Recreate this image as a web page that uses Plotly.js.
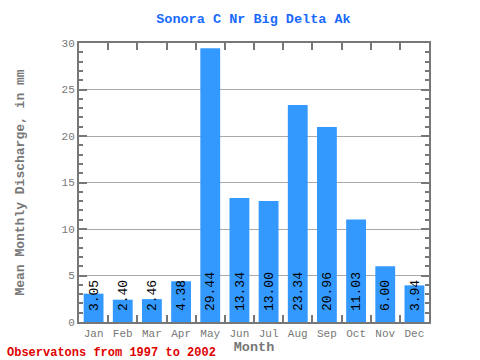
<!DOCTYPE html>
<html><head><meta charset="utf-8">
<script src="https://cdn.plot.ly/plotly-3.0.1.min.js"></script>
<style>body{margin:0}#c{width:480px;height:360px}</style>
</head><body><div id="c"></div>
<script>
const months = ["Jan","Feb","Mar","Apr","May","Jun","Jul","Aug","Sep","Oct","Nov","Dec"];
const discharge = [3.05, 2.40, 2.46, 4.38, 29.44, 13.34, 13.00, 23.34, 20.96, 11.03, 6.00, 3.94];
const yTicks = [0, 5, 10, 15, 20, 25, 30];
const FONT = "Liberation Mono, DejaVu Sans Mono, monospace";
const trace = {
  type: "bar", x: months, y: discharge,
  marker: {color: "#3399ff"}, width: 0.68, hoverinfo: "none"
};
// value labels: rotated tick labels of an overlaid axis pair, one per bar
const labelTrace = {type: "scatter", x: months, y: discharge, xaxis: "x2", yaxis: "y2", mode: "none", hoverinfo: "none"};
const layout = {
  width: 480, height: 360,
  margin: {l: 79, r: 51, t: 43, b: 38},
  paper_bgcolor: "#fff", plot_bgcolor: "#fff",
  showlegend: false,
  title: {text: "<b>Sonora C Nr Big Delta Ak</b>", x: 0.528, xanchor: "center", y: 0.95, yanchor: "middle",
    font: {family: FONT, size: 13.5, color: "#1a6aff"}},
  xaxis: {type: "category", showline: true, linecolor: "#777", linewidth: 2, mirror: "ticks",
    ticks: "inside", ticklen: 7, tickwidth: 2, tickcolor: "#777", tickson: "boundaries",
    tickangle: 0,
    tickfont: {family: FONT, size: 11, color: "#777"},
    title: {text: "<b>Month</b>", font: {family: FONT, size: 13.5, color: "#777"}, standoff: 2},
    range: [-0.5, 11.5]},
  xaxis2: {type: "category", overlaying: "x", side: "bottom", anchor: "y2", range: [-0.5, 11.5],
    tickangle: -90, ticklabelposition: "inside", ticklabelstandoff: 6,
    tickvals: months, ticktext: discharge.map(v => v.toFixed(2)), showgrid: false,
    showline: true, linecolor: "#777", linewidth: 2, ticks: "",
    tickfont: {family: FONT, size: 13, color: "#000"}},
  yaxis2: {overlaying: "y", side: "left", anchor: "x2", range: [0, 30], showgrid: false, zeroline: false,
    showticklabels: false, ticks: "", showline: true, linecolor: "#777", linewidth: 2},
  yaxis: {range: [0, 30], tickvals: yTicks, showline: true, linecolor: "#777", linewidth: 2, mirror: "ticks",
    ticks: "inside", ticklen: 8, tickwidth: 2, tickcolor: "#777",
    minor: {dtick: 1, ticks: "inside", ticklen: 4, tickwidth: 2, tickcolor: "#777", showgrid: false},
    showgrid: true, gridcolor: "#aaa", gridwidth: 1, zeroline: false,
    tickfont: {family: FONT, size: 11, color: "#777"},
    title: {text: "<b>Mean Monthly Discharge, in mm</b>", font: {family: FONT, size: 13, color: "#777"}, standoff: 34}},
  annotations: [{text: "<b>Observatons from 1997 to 2002</b>", xref: "paper", yref: "paper",
    x: -74/350, y: -31/279, xanchor: "left", yanchor: "middle", showarrow: false,
    font: {family: FONT, size: 12, color: "#e00000"}}]
};
Plotly.newPlot("c", [trace, labelTrace], layout, {staticPlot: true});
</script></body></html>
